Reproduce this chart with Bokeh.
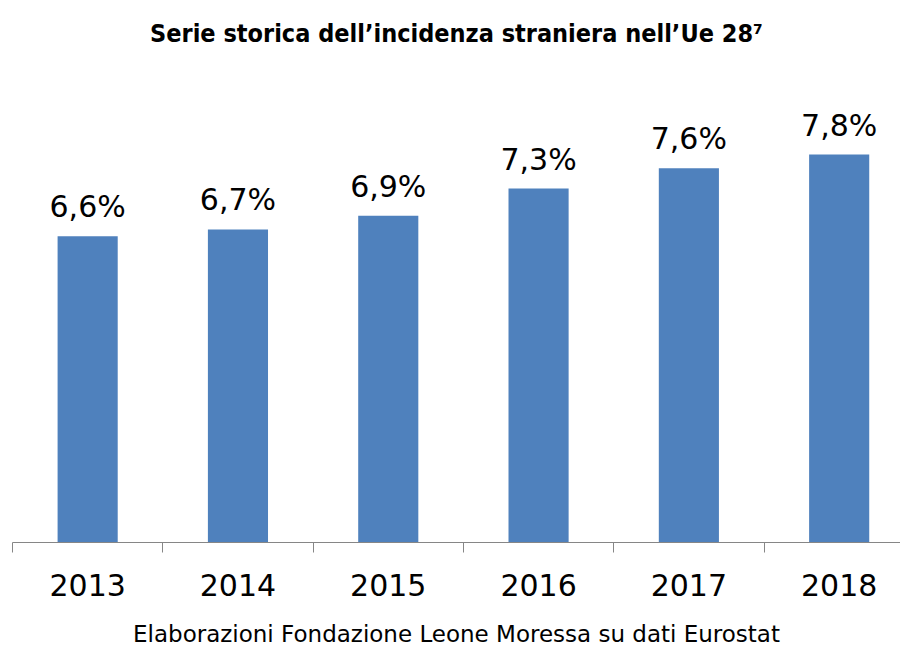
from bokeh.plotting import figure
from bokeh.models import ColumnDataSource, Range1d, FixedTicker, LabelSet
from bokeh.core.properties import value
from bokeh.embed import file_html
from bokeh.resources import INLINE

years = ["2013", "2014", "2015", "2016", "2017", "2018"]
values = [6.6, 6.7, 6.9, 7.3, 7.6, 7.8]
value_labels = ["6,6%", "6,7%", "6,9%", "7,3%", "7,6%", "7,8%"]
source_note = "Elaborazioni Fondazione Leone Moressa su dati Eurostat"

pos = [i + 0.5 for i in range(len(years))]
src = ColumnDataSource(dict(x=pos, top=values, lab=value_labels))

p = figure(width=900, height=649, output_backend="svg", toolbar_location=None,
           x_range=Range1d(0, 5.908), y_range=Range1d(2.1, 9.30),
           min_border_left=12, min_border_right=0, min_border_top=52, min_border_bottom=107)
p.title.text = "Serie storica dell\u2019incidenza straniera nell\u2019Ue 28\u2077"
p.title.align = "center"
p.title.text_font = "DejaVu Sans Condensed"
p.title.text_font_size = "25px"
p.title.text_font_style = "bold"
p.title.text_color = "black"

p.vbar(x="x", top="top", bottom=2.1, width=0.4, source=src, fill_color="#4F81BD", line_color=None)

labels = LabelSet(x="x", y="top", text="lab", source=src, text_align="center", text_baseline="alphabetic",
                  y_offset=19, text_font=value("DejaVu Sans"), text_font_size=value("30px"),
                  text_color=value("black"))
p.add_layout(labels)

p.yaxis.visible = False
p.grid.visible = False
p.outline_line_color = None

ax = p.xaxis[0]
ax.ticker = FixedTicker(ticks=pos, minor_ticks=list(range(len(years) + 1)))
ax.major_label_overrides = {pos[i]: years[i] for i in range(len(years))}
ax.major_tick_line_color = None
ax.major_tick_out = 0
ax.major_tick_in = 0
ax.minor_tick_out = 10
ax.minor_tick_in = 0
ax.minor_tick_line_color = "#868686"
ax.axis_line_color = "#868686"
ax.axis_line_width = 1
ax.major_label_standoff = 21
ax.major_label_text_font = "DejaVu Sans"
ax.major_label_text_font_size = "30px"
ax.major_label_text_color = "black"
ax.axis_label = source_note
ax.axis_label_standoff = 22
ax.axis_label_text_font = "DejaVu Sans"
ax.axis_label_text_font_size = "23px"
ax.axis_label_text_font_style = "normal"
ax.axis_label_text_color = "black"

open("out.html", "w").write(file_html(p, INLINE))
